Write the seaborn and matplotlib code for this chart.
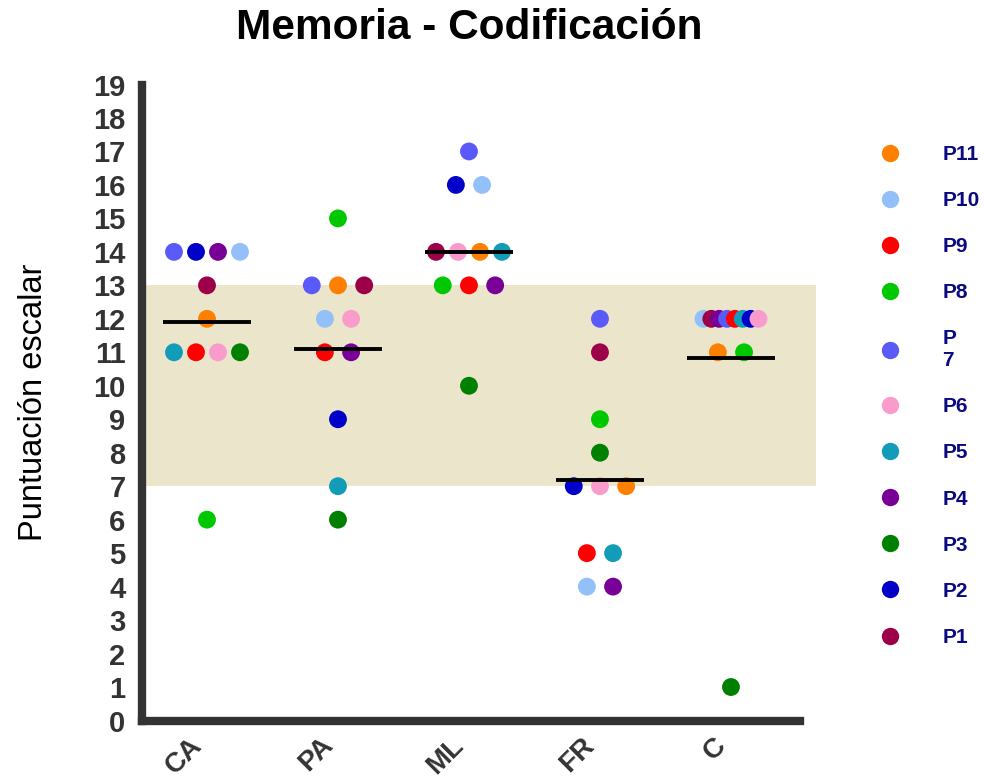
import matplotlib
matplotlib.use("Agg")
import matplotlib.pyplot as plt
from matplotlib.lines import Line2D
import numpy as np
import pandas as pd
import seaborn as sns

# ---------------- data ----------------
categories = ["CA", "PA", "ML", "FR", "C"]
participants = ["P1", "P2", "P3", "P4", "P5", "P6", "P7", "P8", "P9", "P10", "P11"]
participant_colors = ["#9C0048", "#0000C8", "#008000", "#780096", "#129CB8", "#F99BCB",
                      "#5A5AF8", "#00C800", "#FF0000", "#93C0F8", "#FF8000"]

ca_participants = ["P7", "P2", "P4", "P10", "P1", "P11", "P5", "P9", "P6", "P3", "P8"]
ca_scores = [14, 14, 14, 14, 13, 12, 11, 11, 11, 11, 6]
pa_participants = ["P8", "P7", "P11", "P1", "P10", "P6", "P9", "P4", "P2", "P5", "P3"]
pa_scores = [15, 13, 13, 13, 12, 12, 11, 11, 9, 7, 6]
ml_participants = ["P7", "P2", "P10", "P1", "P6", "P11", "P5", "P8", "P9", "P4", "P3"]
ml_scores = [17, 16, 16, 14, 14, 14, 14, 13, 13, 13, 10]
fr_participants = ["P7", "P1", "P8", "P3", "P2", "P6", "P11", "P9", "P5", "P10", "P4"]
fr_scores = [12, 11, 9, 8, 7, 7, 7, 5, 5, 4, 4]
c_participants = ["P10", "P1", "P4", "P7", "P9", "P5", "P2", "P6", "P11", "P8", "P3"]
c_scores = [12, 12, 12, 12, 12, 12, 12, 12, 11, 11, 1]

y_ticks = list(range(0, 20))
legend_order = ["P11", "P10", "P9", "P8", "P7", "P6", "P5", "P4", "P3", "P2", "P1"]
legend_labels = ["P11", "P10", "P9", "P8", "P\n7", "P6", "P5", "P4", "P3", "P2", "P1"]

# ---------------- build table ----------------
groups = [ca_participants, pa_participants, ml_participants, fr_participants, c_participants]
scores = [ca_scores, pa_scores, ml_scores, fr_scores, c_scores]
rows = []
for cat, parts, vals in zip(categories, groups, scores):
    for p, v in zip(parts, vals):
        rows.append({"category": cat, "participant": p, "score": v})
df = pd.DataFrame(rows)

# horizontal scatter layout (computed from row sizes)
row_spacing = {1: 0.0, 2: 0.2, 3: 0.2, 4: 0.168, 8: 0.06}
cat_pos = {c: i for i, c in enumerate(categories)}
xs = {}
for (cat, sc), g in df.groupby(["category", "score"], sort=False):
    n = len(g)
    sp = row_spacing.get(n, 0.168)
    for k, idx in enumerate(g.index):
        xs[idx] = cat_pos[cat] + (k - (n - 1) / 2) * sp
df["x"] = [xs[i] for i in df.index]

palette = dict(zip(participants, participant_colors))

# ---------------- figure ----------------
sns.set_style("white")
plt.rcParams["font.family"] = ["Liberation Sans", "DejaVu Sans"]

fig = plt.figure(figsize=(9.84, 7.80), dpi=100)
ax = fig.add_axes([141.5 / 984, 59.5 / 780, 674.6 / 984, 636 / 780])

ax.axhspan(7, 13, color="#EBE5CB", lw=0, zorder=0)

sns.scatterplot(data=df, x="x", y="score", hue="participant", palette=palette,
                s=165, edgecolor="none", linewidth=0, legend=False, ax=ax, zorder=3)

means = df.groupby("category", sort=False)["score"].mean()
for cat, m in means.items():
    p = cat_pos[cat]
    ax.hlines(m, p - 0.335, p + 0.335, color="black", lw=2.8, zorder=4)

ax.set_xlim(-0.5, 4.65)
ax.set_ylim(0, 19)
ax.set_yticks(y_ticks)
ax.set_yticklabels([str(t) for t in y_ticks], fontsize=21, fontweight="bold", color="#333333")
ax.set_xticks(range(len(categories)))
ax.set_xticklabels(categories, fontsize=20, fontweight="bold", color="#333333",
                   rotation=45, ha="right")
ax.tick_params(axis="both", direction="out", length=6.5, width=5, color="#333333")
ax.tick_params(axis="y", pad=5)
ax.tick_params(axis="x", pad=2)

for s in ["top", "right"]:
    ax.spines[s].set_visible(False)
for s in ["left", "bottom"]:
    ax.spines[s].set_linewidth(6)
    ax.spines[s].set_color("#333333")
ax.spines["bottom"].set_bounds(-0.5, 4.53)

ax.set_xlabel("")
ax.set_ylabel("Puntuación escalar", fontsize=23.5, color="black", labelpad=32)

fig.text(469 / 984, 1 - 39 / 780, "Memoria - Codificación", ha="center", va="baseline",
         fontsize=30.5, fontweight="bold", color="black")

handles = [Line2D([0], [0], marker="o", linestyle="none", markersize=12.5,
                  markerfacecolor=palette[p], markeredgecolor="none") for p in legend_order]
leg = ax.legend(handles, legend_labels, loc="upper left",
                bbox_to_anchor=(880 / 984, 1 - 145 / 780), bbox_transform=fig.transFigure,
                frameon=False, fontsize=15, labelspacing=1.3, handlelength=1.0,
                handletextpad=2.0, borderpad=0, borderaxespad=0)
for t in leg.get_texts():
    t.set_color("#0A0A80")
    t.set_fontweight("bold")

fig.savefig("out.png", dpi=100)
